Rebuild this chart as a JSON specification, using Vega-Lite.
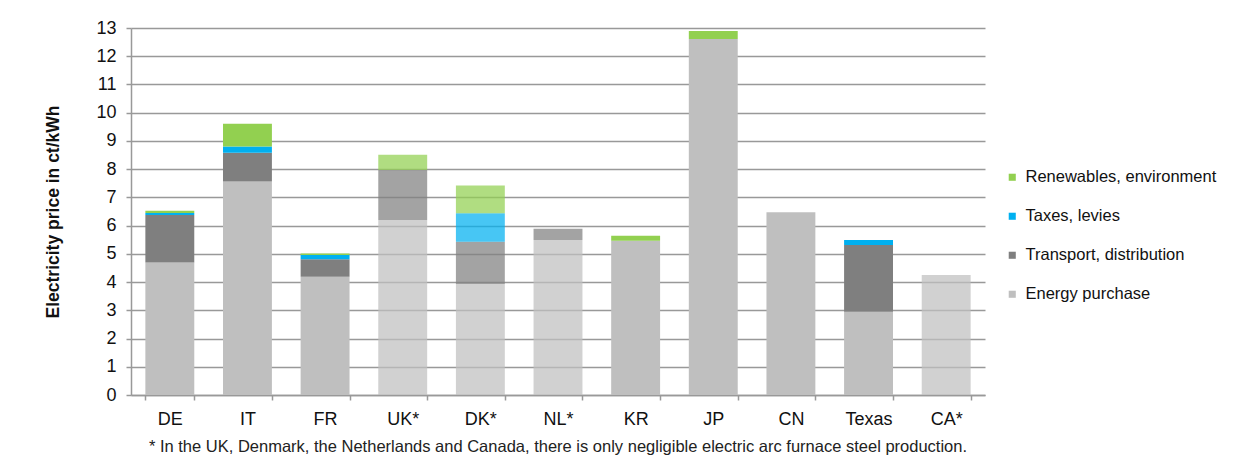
{
  "$schema": "https://vega.github.io/schema/vega-lite/v6.json",
  "autosize": "none",
  "width": 854,
  "height": 367,
  "padding": {"left": 131, "top": 28, "right": 261, "bottom": 80},
  "background": "white",
  "config": {
    "font": "Liberation Sans",
    "view": {"stroke": null},
    "axis": {"labelFont": "Liberation Sans", "titleFont": "Liberation Sans"}
  },
  "title": {
    "text": "* In the UK, Denmark, the Netherlands and Canada, there is only negligible electric arc furnace steel production.",
    "orient": "bottom",
    "anchor": "middle",
    "font": "Liberation Sans",
    "fontSize": 16.5,
    "fontWeight": "normal",
    "color": "#222222",
    "offset": 11
  },
  "data": {
    "values": [
      {"country": "DE", "component": "Energy purchase", "value": 4.69, "eaf": "relevant", "layer": 1},
      {"country": "DE", "component": "Transport, distribution", "value": 1.69, "eaf": "relevant", "layer": 2},
      {"country": "DE", "component": "Taxes, levies", "value": 0.07, "eaf": "relevant", "layer": 3},
      {"country": "DE", "component": "Renewables, environment", "value": 0.08, "eaf": "relevant", "layer": 4},
      {"country": "IT", "component": "Energy purchase", "value": 7.56, "eaf": "relevant", "layer": 1},
      {"country": "IT", "component": "Transport, distribution", "value": 1.02, "eaf": "relevant", "layer": 2},
      {"country": "IT", "component": "Taxes, levies", "value": 0.22, "eaf": "relevant", "layer": 3},
      {"country": "IT", "component": "Renewables, environment", "value": 0.81, "eaf": "relevant", "layer": 4},
      {"country": "FR", "component": "Energy purchase", "value": 4.19, "eaf": "relevant", "layer": 1},
      {"country": "FR", "component": "Transport, distribution", "value": 0.62, "eaf": "relevant", "layer": 2},
      {"country": "FR", "component": "Taxes, levies", "value": 0.15, "eaf": "relevant", "layer": 3},
      {"country": "FR", "component": "Renewables, environment", "value": 0.05, "eaf": "relevant", "layer": 4},
      {"country": "UK*", "component": "Energy purchase", "value": 6.2, "eaf": "negligible", "layer": 1},
      {"country": "UK*", "component": "Transport, distribution", "value": 1.77, "eaf": "negligible", "layer": 2},
      {"country": "UK*", "component": "Taxes, levies", "value": 0, "eaf": "negligible", "layer": 3},
      {"country": "UK*", "component": "Renewables, environment", "value": 0.54, "eaf": "negligible", "layer": 4},
      {"country": "DK*", "component": "Energy purchase", "value": 3.93, "eaf": "negligible", "layer": 1},
      {"country": "DK*", "component": "Transport, distribution", "value": 1.5, "eaf": "negligible", "layer": 2},
      {"country": "DK*", "component": "Taxes, levies", "value": 1.01, "eaf": "negligible", "layer": 3},
      {"country": "DK*", "component": "Renewables, environment", "value": 0.98, "eaf": "negligible", "layer": 4},
      {"country": "NL*", "component": "Energy purchase", "value": 5.49, "eaf": "negligible", "layer": 1},
      {"country": "NL*", "component": "Transport, distribution", "value": 0.4, "eaf": "negligible", "layer": 2},
      {"country": "KR", "component": "Energy purchase", "value": 5.46, "eaf": "relevant", "layer": 1},
      {"country": "KR", "component": "Renewables, environment", "value": 0.18, "eaf": "relevant", "layer": 4},
      {"country": "JP", "component": "Energy purchase", "value": 12.61, "eaf": "relevant", "layer": 1},
      {"country": "JP", "component": "Renewables, environment", "value": 0.28, "eaf": "relevant", "layer": 4},
      {"country": "CN", "component": "Energy purchase", "value": 6.47, "eaf": "relevant", "layer": 1},
      {"country": "Texas", "component": "Energy purchase", "value": 2.95, "eaf": "relevant", "layer": 1},
      {"country": "Texas", "component": "Transport, distribution", "value": 2.36, "eaf": "relevant", "layer": 2},
      {"country": "Texas", "component": "Taxes, levies", "value": 0.18, "eaf": "relevant", "layer": 3},
      {"country": "CA*", "component": "Energy purchase", "value": 4.25, "eaf": "negligible", "layer": 1}
    ]
  },
  "mark": {"type": "bar"},
  "encoding": {
    "x": {
      "field": "country",
      "type": "nominal",
      "sort": null,
      "scale": {"paddingInner": 0.37, "paddingOuter": 0.185},
      "axis": {
        "title": null,
        "labelAngle": 0,
        "labelFontSize": 18,
        "labelColor": "#111111",
        "labelPadding": 10,
        "domainColor": "#999999",
        "domainWidth": 1.5,
        "tickColor": "#999999",
        "tickWidth": 1.5,
        "tickSize": 5,
        "tickBand": "extent"
      }
    },
    "y": {
      "field": "value",
      "type": "quantitative",
      "stack": "zero",
      "scale": {"domain": [0, 13], "nice": false},
      "axis": {
        "title": "Electricity price in ct/kWh",
        "titleFontSize": 17.5,
        "titleFontWeight": "bold",
        "titleColor": "#111111",
        "titlePadding": 33,
        "values": [0, 1, 2, 3, 4, 5, 6, 7, 8, 9, 10, 11, 12, 13],
        "labelFontSize": 18,
        "labelColor": "#111111",
        "labelPadding": 10,
        "grid": true,
        "gridColor": "#999999",
        "gridWidth": 1.5,
        "domainColor": "#999999",
        "domainWidth": 1.5,
        "tickColor": "#999999",
        "tickWidth": 1.5,
        "tickSize": 5
      }
    },
    "color": {
      "field": "component",
      "type": "nominal",
      "scale": {
        "domain": ["Renewables, environment", "Taxes, levies", "Transport, distribution", "Energy purchase"],
        "range": ["#92d050", "#00b0f0", "#7f7f7f", "#bfbfbf"]
      },
      "legend": {
        "title": null,
        "orient": "none",
        "legendX": 873,
        "legendY": 141,
        "symbolType": "square",
        "symbolSize": 50,
        "symbolStrokeWidth": 0,
        "labelFontSize": 16.5,
        "labelLimit": 300,
        "labelColor": "#111111",
        "labelOffset": 5,
        "rowPadding": 22
      }
    },
    "opacity": {
      "field": "eaf",
      "type": "nominal",
      "scale": {"domain": ["relevant", "negligible"], "range": [1, 0.72]},
      "legend": null
    },
    "order": {"field": "layer", "type": "quantitative", "sort": "ascending"}
  }
}
